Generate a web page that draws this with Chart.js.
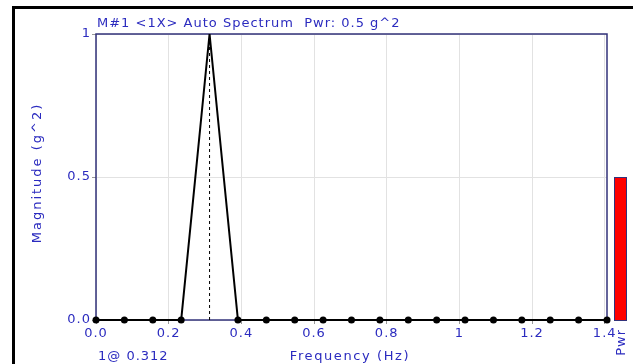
<!DOCTYPE html>
<html>
<head>
<meta charset="utf-8">
<script src="https://cdn.jsdelivr.net/npm/chart.js@4.4.0/dist/chart.umd.min.js"></script>
<style>
    html, body { margin: 0; padding: 0; background: #fff; }
    #wrap { position: relative; width: 633px; height: 364px; }
</style>
</head>
<body>
<div id="wrap"><canvas id="spec" width="633" height="364"></canvas></div>
<script>
        // Spectrum lines (Hz) and magnitudes (g^2)
        const freqHz = [0, 0.0781, 0.1563, 0.2344, 0.3125, 0.3906, 0.4688, 0.5469, 0.625, 0.7031,
                        0.7813, 0.8594, 0.9375, 1.0156, 1.0938, 1.1719, 1.25, 1.3281, 1.4063];
        const magnitude = [0, 0, 0, 0, 1, 0, 0, 0, 0, 0, 0, 0, 0, 0, 0, 0, 0, 0, 0];

        // Cursor line at the peak
        const cursorFreq = [0.3125, 0.3125];
        const cursorMag = [0, 1];

        // Overall power bar
        const pwrLabel = ['Pwr'];
        const pwrValue = [0.5];

        const xTicks = [0, 0.2, 0.4, 0.6, 0.8, 1, 1.2, 1.4];
        const xTickLabels = ['0.0', '0.2', '0.4', '0.6', '0.8', '1', '1.2', '1.4'];
        const yTicks = [0, 0.5, 1];
        const yTickLabels = ['0.0', '0.5', '1'];

        const titleText = 'M#1 <1X> Auto Spectrum  Pwr: 0.5 g^2';
        const xTitle = 'Frequency (Hz)';
        const yTitle = 'Magnitude (g^2)';
        const cursorText = '1@ 0.312';

        const BLUE = '#2b2bbf';
        const NAVY = '#32327a';
        const FONT = 'DejaVu Sans, Verdana, sans-serif';
        const SPACING = '1px';

        // Slightly spaced text like the original windows font
        const spacingPlugin = {
            id: 'spacing',
            beforeUpdate(chart) { chart.ctx.letterSpacing = SPACING; },
            beforeDraw(chart) { chart.ctx.letterSpacing = SPACING; }
        };

        const decorPlugin = {
            id: 'decor',
            beforeDatasetsDraw(chart) {
                const { ctx, chartArea: a } = chart;
                ctx.save();
                ctx.strokeStyle = NAVY;
                ctx.lineWidth = 1.5;
                ctx.strokeRect(a.left, a.top, a.right - a.left, a.bottom - a.top);
                ctx.restore();
            },
            afterDraw(chart) {
                const { ctx, scales } = chart;
                const y = scales.y;
                ctx.save();
                ctx.letterSpacing = SPACING;

                // outer frame
                ctx.strokeStyle = '#000';
                ctx.lineWidth = 3;
                ctx.beginPath();
                ctx.moveTo(13.5, 364);
                ctx.lineTo(13.5, 7.5);
                ctx.lineTo(633, 7.5);
                ctx.stroke();

                ctx.fillStyle = BLUE;
                ctx.font = '13px ' + FONT;
                ctx.textBaseline = 'alphabetic';
                ctx.textAlign = 'left';
                ctx.fillText(titleText, 97, 27);
                ctx.fillText(cursorText, 98, 360);
                ctx.textAlign = 'center';
                ctx.letterSpacing = '1.6px';
                ctx.fillText(xTitle, 350, 360);

                ctx.save();
                ctx.letterSpacing = '2px';
                ctx.translate(41, 173);
                ctx.rotate(-Math.PI / 2);
                ctx.fillText(yTitle, 0, 0);
                ctx.restore();
                ctx.letterSpacing = SPACING;

                // power bar, scaled on the magnitude axis
                const bx = 614, bw = 13;
                const top = y.getPixelForValue(pwrValue[0]);
                const bot = y.getPixelForValue(0);
                ctx.fillStyle = '#ff0000';
                ctx.fillRect(bx, top, bw, bot - top);
                ctx.strokeStyle = NAVY;
                ctx.lineWidth = 1;
                ctx.strokeRect(bx + 0.5, top + 0.5, bw - 1, bot - top);

                ctx.fillStyle = BLUE;
                ctx.save();
                ctx.translate(625, bot + 9);
                ctx.rotate(-Math.PI / 2);
                ctx.textAlign = 'right';
                ctx.fillText(pwrLabel[0], 0, 0);
                ctx.restore();

                ctx.restore();
            }
        };

        function initSpectrum() {
            const ctx = document.getElementById('spec').getContext('2d');
            new Chart(ctx, {
                type: 'line',
                data: {
                    datasets: [{
                        label: 'Spectrum',
                        data: freqHz.map((f, i) => ({ x: f, y: magnitude[i] })),
                        borderColor: '#000',
                        borderWidth: 2,
                        pointBackgroundColor: '#000',
                        pointBorderWidth: 0,
                        pointRadius: magnitude.map(m => m === 1 ? 0 : 3.5),
                        tension: 0,
                        clip: 8
                    }, {
                        label: 'Cursor',
                        data: cursorFreq.map((f, i) => ({ x: f, y: cursorMag[i] })),
                        borderColor: '#000',
                        borderWidth: 1,
                        borderDash: [3, 3],
                        pointRadius: 0,
                        tension: 0
                    }]
                },
                options: {
                    responsive: false,
                    animation: false,
                    devicePixelRatio: 1,
                    layout: { padding: { left: 0, top: 34, right: 26, bottom: 0 } },
                    scales: {
                        x: {
                            type: 'linear',
                            min: 0,
                            max: 1.4063,
                            afterFit(scale) { scale.height = 44; },
                            afterBuildTicks(scale) { scale.ticks = xTicks.map(v => ({ value: v })); },
                            grid: { color: '#e2e2e2', lineWidth: 1, tickLength: 4, tickColor: '#999' },
                            border: { display: false },
                            ticks: {
                                color: BLUE,
                                font: { family: FONT, size: 13 },
                                padding: 2,
                                maxRotation: 0,
                                callback: (v) => xTickLabels[xTicks.indexOf(v)]
                            }
                        },
                        y: {
                            min: 0,
                            max: 1,
                            afterFit(scale) { scale.width = 96; },
                            afterBuildTicks(scale) { scale.ticks = yTicks.map(v => ({ value: v })); },
                            grid: { color: '#e2e2e2', lineWidth: 1, tickLength: 4, tickColor: '#999' },
                            border: { display: false },
                            ticks: {
                                color: BLUE,
                                font: { family: FONT, size: 13 },
                                padding: 1,
                                callback: (v) => yTickLabels[yTicks.indexOf(v)]
                            }
                        }
                    },
                    plugins: {
                        legend: { display: false },
                        tooltip: { enabled: false }
                    }
                },
                plugins: [spacingPlugin, decorPlugin]
            });
        }

        window.onload = initSpectrum;
</script>
</body>
</html>
